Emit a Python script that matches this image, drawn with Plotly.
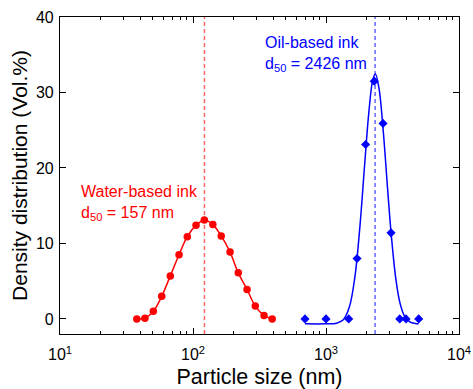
import plotly.graph_objects as go

# Water-based ink (red) measured distribution
water_size = [37.8, 43.5, 50.3, 58.2, 67.5, 78.5, 90.6, 105.4, 121.7, 141, 163, 190, 219, 255, 294, 342, 394]
water_vol = [0.0, 0.1, 1.0, 3.0, 5.7, 8.5, 10.9, 12.4, 13.1, 12.5, 11.0, 8.85, 6.1, 3.9, 1.7, 0.46, 0.0]

# Oil-based ink (blue) measured distribution
oil_size = [695, 1000, 1482, 1711, 1986, 2305, 2683, 3083, 3584, 3996, 4977]
oil_vol = [0.0, 0.0, 0.0, 8.0, 23.1, 31.5, 25.9, 11.4, 0.0, 0.0, 0.0]

# Oil-based ink fitted curve
oil_fit_size = [695, 1000, 1200, 1350, 1500, 1650, 1800, 1950, 2100, 2250, 2350, 2500, 2700, 2900, 3100, 3350, 3600, 3900, 4300, 4700, 4977]
oil_fit_vol = [-0.65, -0.65, -0.57, -0.11, 1.6, 5.6, 12.3, 20.3, 27.4, 31.7, 32.45, 30.6, 24.7, 17.4, 11.0, 5.3, 2.1, 0.35, -0.42, -0.6, -0.65]

# d50 marker lines
water_d50_line = 122
oil_d50_line = 2340

x_ticks = [10, 100, 1000, 10000]
x_tick_text = ["10<sup>1</sup>", "10<sup>2</sup>", "10<sup>3</sup>", "10<sup>4</sup>"]
x_minor = [20, 30, 40, 50, 60, 70, 80, 90, 200, 300, 400, 500, 600, 700, 800, 900,
           2000, 3000, 4000, 5000, 6000, 7000, 8000, 9000]
y_ticks = [0, 10, 20, 30, 40]

RED = "#ff0000"
BLUE = "#0000ff"
FONT = "Liberation Sans, Arial, sans-serif"

fig = go.Figure()

fig.add_trace(go.Scatter(
    x=water_size, y=water_vol, mode="lines+markers",
    line=dict(color=RED, width=1.5, shape="spline"),
    marker=dict(color=RED, size=7.5, symbol="circle"),
    showlegend=False))

fig.add_trace(go.Scatter(
    x=oil_fit_size, y=oil_fit_vol, mode="lines",
    line=dict(color=BLUE, width=1.5, shape="spline"),
    showlegend=False))

fig.add_trace(go.Scatter(
    x=oil_size, y=oil_vol, mode="markers",
    marker=dict(color=BLUE, size=7, symbol="diamond"),
    showlegend=False))

fig.add_shape(type="line", xref="x", yref="paper", x0=water_d50_line, x1=water_d50_line,
              y0=0, y1=1, line=dict(color="rgba(255,0,0,0.6)", width=1.5, dash="4px,3px"))
fig.add_shape(type="line", xref="x", yref="paper", x0=oil_d50_line, x1=oil_d50_line,
              y0=0, y1=1, line=dict(color="rgba(0,0,255,0.6)", width=1.5, dash="4px,3px"))

fig.add_annotation(xref="paper", yref="paper", x=0.047, y=0.413,
                   xanchor="left", yanchor="middle", align="left", showarrow=False,
                   text="Water-based ink<br>d<sub>50</sub> = 157 nm",
                   font=dict(family=FONT, size=16, color=RED))
fig.add_annotation(xref="paper", yref="paper", x=0.508, y=0.883,
                   xanchor="left", yanchor="middle", align="left", showarrow=False,
                   text="Oil-based ink<br>d<sub>50</sub> = 2426 nm",
                   font=dict(family=FONT, size=16, color=BLUE))

axis_common = dict(showline=True, linecolor="black", linewidth=1.2, mirror="ticks",
                   ticks="inside", tickcolor="black", showgrid=False, zeroline=False,
                   automargin=False,
                   tickfont=dict(family=FONT, size=16, color="black"))

fig.update_xaxes(type="log", range=[1, 4], tickvals=x_ticks, ticktext=x_tick_text,
                 ticklen=6, tickwidth=1.2, ticklabelstandoff=6,
                 minor=dict(tickvals=x_minor, ticks="inside", ticklen=3, tickcolor="black", tickwidth=1),
                 title=dict(text="Particle size (nm)", font=dict(family=FONT, size=21.5, color="black"), standoff=8),
                 **axis_common)
fig.update_yaxes(range=[-2, 40], tickvals=y_ticks, ticklen=6, tickwidth=1.2, ticklabelstandoff=2,
                 title=dict(text="Density distribution (Vol.%)", font=dict(family=FONT, size=21, color="black"), standoff=2),
                 **axis_common)

fig.update_layout(width=473, height=389, margin=dict(l=60, r=14, t=17, b=55),
                  plot_bgcolor="white", paper_bgcolor="white",
                  font=dict(family=FONT, color="black"))

fig.write_html("out.html")
